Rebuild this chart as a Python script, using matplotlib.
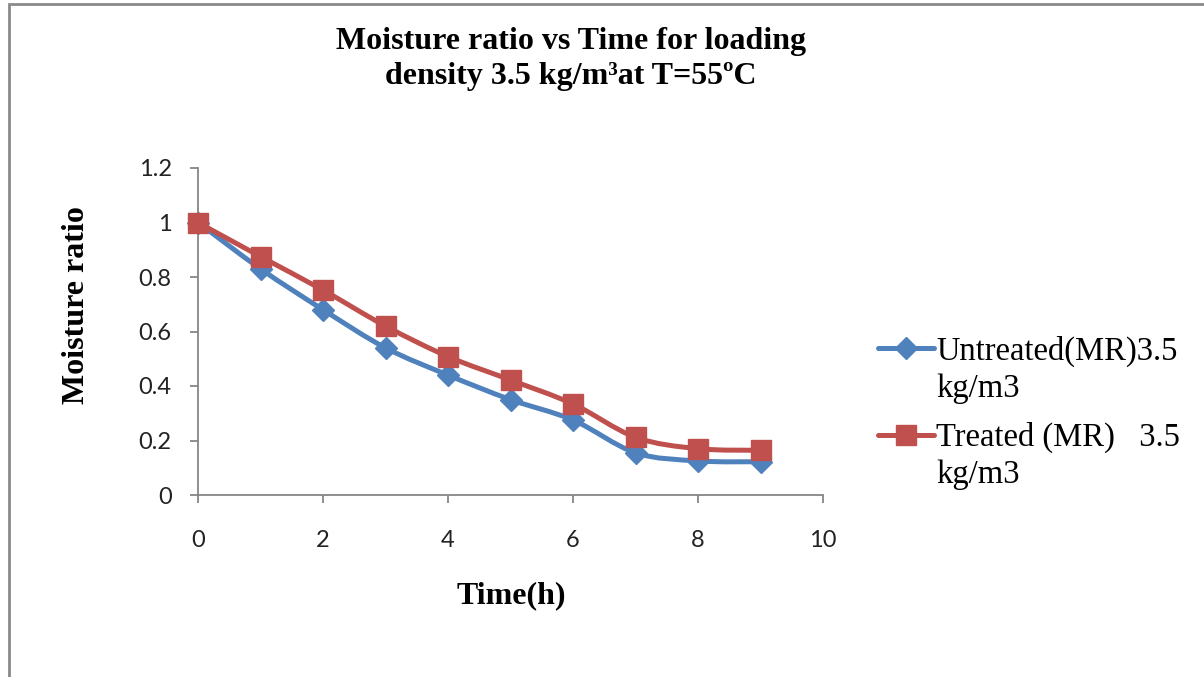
import matplotlib
matplotlib.use("Agg")
import matplotlib.pyplot as plt
from matplotlib.path import Path
from matplotlib.patches import PathPatch, Rectangle
from matplotlib.lines import Line2D
from matplotlib.ticker import FuncFormatter

# ---- data ----
time_h = [0, 1, 2, 3, 4, 5, 6, 7, 8, 9]
untreated_mr = [1.0, 0.83, 0.68, 0.54, 0.44, 0.35, 0.275, 0.155, 0.125, 0.122]
treated_mr = [1.0, 0.875, 0.752, 0.62, 0.508, 0.422, 0.334, 0.212, 0.17, 0.164]
series_labels = ["Untreated(MR)3.5\nkg/m3", "Treated (MR)   3.5\nkg/m3"]
x_ticks = [0, 2, 4, 6, 8, 10]
y_ticks = [0, 0.2, 0.4, 0.6, 0.8, 1.0, 1.2]

title_lines = ["Moisture ratio vs Time for loading", "density 3.5 kg/m³at T=55ºC"]
xlabel = "Time(h)"
ylabel = "Moisture ratio"

BLUE = "#4F81BD"
RED = "#C0504D"
GRAY = "#868686"
W, H = 1204, 677

fig = plt.figure(figsize=(W / 100, H / 100), dpi=100)
fig.patch.set_facecolor("white")
ax = fig.add_axes([198 / W, 1 - 495 / H, (823 - 198) / W, (495 - 168) / H])


def smooth_path(xs, ys):
    pts = list(zip(xs, ys))
    n = len(pts)
    verts = [pts[0]]
    codes = [Path.MOVETO]
    for i in range(n - 1):
        p0 = pts[i - 1] if i > 0 else pts[i]
        p1 = pts[i]
        p2 = pts[i + 1]
        p3 = pts[i + 2] if i + 2 < n else pts[i + 1]
        c1 = (p1[0] + (p2[0] - p0[0]) / 6, p1[1] + (p2[1] - p0[1]) / 6)
        c2 = (p2[0] - (p3[0] - p1[0]) / 6, p2[1] - (p3[1] - p1[1]) / 6)
        verts += [c1, c2, p2]
        codes += [Path.CURVE4] * 3
    return Path(verts, codes)


styles = [(BLUE, "D", 11), (RED, "s", 14.5)]
for ys, (col, mk, ms), z in zip([untreated_mr, treated_mr], styles, [3, 4]):
    patch = PathPatch(smooth_path(time_h, ys), facecolor="none", edgecolor=col,
                      lw=3.6, capstyle="round", joinstyle="round", zorder=z)
    ax.add_patch(patch)
    ax.plot(time_h, ys, linestyle="none", marker=mk, markersize=ms,
            color=col, markeredgecolor=col, zorder=z + 0.5, clip_on=False)

ax.set_xlim(0, 10)
ax.set_ylim(0, 1.2)
ax.set_xticks(x_ticks)
ax.set_yticks(y_ticks)
ax.yaxis.set_major_formatter(FuncFormatter(lambda v, p: ("%g" % round(v, 2))))
for s in ["top", "right"]:
    ax.spines[s].set_visible(False)
for s in ["left", "bottom"]:
    ax.spines[s].set_color(GRAY)
    ax.spines[s].set_linewidth(1.3)
ax.tick_params(axis="both", direction="out", length=6, width=1.3, color=GRAY,
               labelsize=17, labelcolor="#222222")
ax.tick_params(axis="x", pad=19)
ax.tick_params(axis="y", pad=13)
for lab in ax.get_xticklabels() + ax.get_yticklabels():
    lab.set_fontfamily("Lato")

serif = "Liberation Serif"
for txt, yb in zip(title_lines, [49, 84]):
    fig.text(571 / W, 1 - yb / H, txt, ha="center", va="baseline",
             fontsize=23, fontweight="bold", family=serif)
fig.text(511 / W, 1 - 603 / H, xlabel, ha="center", va="baseline",
         fontsize=23, fontweight="bold", family=serif)
fig.text(76 / W, 1 - 305 / H, ylabel, ha="center", va="center", rotation=90,
         fontsize=23, fontweight="bold", family=serif)

# legend (manual, handle aligned with first text line)
leg_rows = [(348, 360), (435, 446)]
for (yh, yb), (col, mk, ms), lab in zip(leg_rows, styles, series_labels):
    yf = 1 - yh / H
    fig.add_artist(Line2D([878 / W, 934 / W], [yf, yf], color=col, lw=3.6,
                          solid_capstyle="round", transform=fig.transFigure))
    fig.add_artist(Line2D([905.5 / W], [yf], color=col, marker=mk, markersize=ms,
                          transform=fig.transFigure))
    for k, part in enumerate(lab.split("\n")):
        fig.text(936 / W, 1 - (yb + 36.5 * k) / H, part, ha="left", va="baseline",
                 fontsize=23.5, family=serif)

# outer frame (top and left edges visible)
fig.add_artist(Rectangle((9 / W, -0.1), 1.2, 1 - 3.5 / H + 0.1, fill=False,
                         edgecolor="#8A8A8A", lw=2, transform=fig.transFigure))

fig.savefig("out.png", dpi=100, facecolor="white")
